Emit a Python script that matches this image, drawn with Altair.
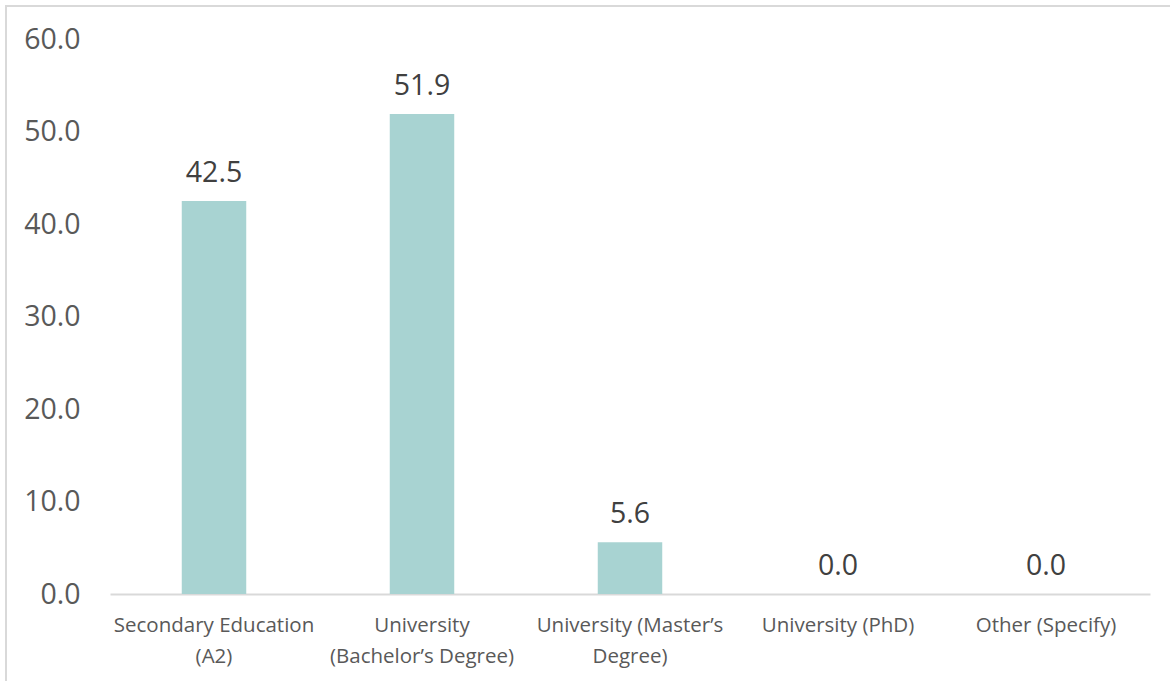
import altair as alt
import pandas as pd

categories = [
    "Secondary Education (A2)",
    "University (Bachelor’s Degree)",
    "University (Master’s Degree)",
    "University (PhD)",
    "Other (Specify)",
]
label_lines = [
    ["Secondary Education", "(A2)"],
    ["University", "(Bachelor’s Degree)"],
    ["University (Master’s", "Degree)"],
    ["University (PhD)"],
    ["Other (Specify)"],
]
values = [42.5, 51.9, 5.6, 0.0, 0.0]

df = pd.DataFrame({"cat": categories, "val": values})

label_map = "{" + ",".join(
    f'"{c}": [{",".join(repr(l) for l in ls)}]' for c, ls in zip(categories, label_lines)
) + "}"

FONT = "Open Sans"

x = alt.X(
    "cat:N",
    sort=categories,
    title=None,
    scale=alt.Scale(paddingInner=0.69, paddingOuter=0.345),
    axis=alt.Axis(
        labelAngle=0,
        labelFontSize=20.5,
        labelColor="#595959",
        labelFont=FONT,
        labelPadding=21,
        labelLineHeight=31,
        labelBaseline="top",
        labelLimit=400,
        ticks=False,
        domainColor="#d9d9d9",
        domainWidth=2,
        labelExpr=f"{label_map}[datum.value]",
    ),
)
y = alt.Y(
    "val:Q",
    title=None,
    scale=alt.Scale(domain=[0, 60]),
    axis=alt.Axis(
        values=[0, 10, 20, 30, 40, 50, 60],
        format=".1f",
        labelFontSize=28.5,
        labelColor="#595959",
        labelFont=FONT,
        labelPadding=30,
        grid=False,
        domain=False,
        ticks=False,
    ),
)

bars = alt.Chart(df).mark_bar(color="#A8D3D2").encode(x=x, y=y)
text = alt.Chart(df).mark_text(
    baseline="bottom", dy=-13, fontSize=28.5, color="#404040", font=FONT
).encode(x=x, y=y, text=alt.Text("val:Q", format=".1f"))

frame = alt.Chart(df).mark_rect(fill=None, stroke="#d9d9d9", strokeWidth=2).encode(
    x=alt.value(-104), x2=alt.value(1200), y=alt.value(-33), y2=alt.value(700)
)

chart = (
    alt.layer(frame, bars, text)
    .properties(
        width=1040,
        height=555,
        background="white",
        padding={"left": 110, "top": 39, "right": 20, "bottom": 87},
        autosize=alt.AutoSizeParams(type="none"),
    )
    .configure_view(strokeOpacity=0, strokeWidth=0)
)

chart.save("out.html", embed_options={"renderer": "svg", "actions": False})
